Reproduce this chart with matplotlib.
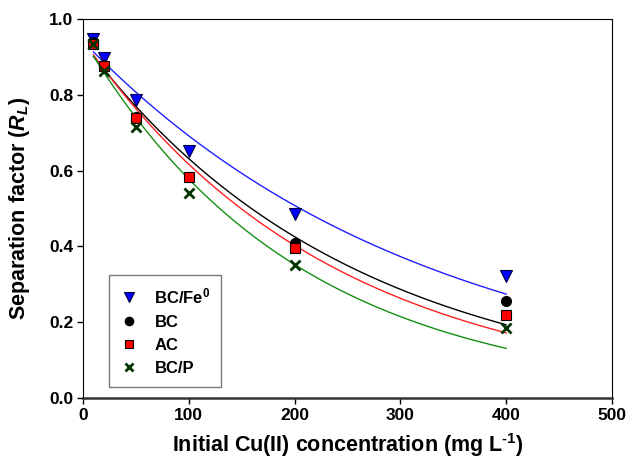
import numpy as np
import matplotlib
matplotlib.use("Agg")
import matplotlib.pyplot as plt

plt.rcParams['font.family'] = ['Liberation Sans', 'DejaVu Sans']
plt.rcParams['font.weight'] = 'bold'
plt.rcParams['mathtext.fontset'] = 'custom'
plt.rcParams['mathtext.rm'] = 'Liberation Sans:bold'
plt.rcParams['mathtext.it'] = 'Liberation Sans:bold:italic'
plt.rcParams['mathtext.bf'] = 'Liberation Sans:bold'

# Data
c0 = [10, 20, 50, 100, 200, 400]
rl_bcfe = [0.948, 0.898, 0.787, 0.651, 0.486, 0.323]
rl_bc = [0.940, 0.880, 0.742, 0.583, 0.410, 0.257]
rl_ac = [0.934, 0.877, 0.740, 0.583, 0.396, 0.218]
rl_bcp = [0.935, 0.864, 0.714, 0.541, 0.352, 0.184]

labels = ['BC/Fe$^{\\mathrm{0}}$', 'BC', 'AC', 'BC/P']


def exp_fit(x, y):
    x = np.asarray(x, float)
    y = np.asarray(y, float)
    best = None
    for b in np.linspace(0.0005, 0.02, 4000):
        e = np.exp(-b * x)
        a = np.dot(e, y) / np.dot(e, e)
        r = np.sum((y - a * e) ** 2)
        if best is None or r < best[0]:
            best = (r, a, b)
    return best[1], best[2]


fig = plt.figure(figsize=(6.28, 4.65), dpi=100)
ax = fig.add_axes([0.132, 0.144, 0.8425, 0.815])

series = [
    (rl_bcfe, dict(marker='v', color='#0000ff', mec='#000040', ms=9, mew=0.8), '#2020ff'),
    (rl_bc, dict(marker='o', color='black', mec='black', ms=7), 'black'),
    (rl_ac, dict(marker='s', color='#ff0000', mec='black', ms=7.5, mew=0.8), '#ff2020'),
    (rl_bcp, dict(marker='x', color='#003300', mec='#003300', ms=7, mew=2), '#149014'),
]

xs = np.linspace(min(c0), max(c0), 200)
handles = []
for (y, mk, lc), lab in zip(series, labels):
    a, b = exp_fit(c0, y)
    ax.plot(xs, a * np.exp(-b * xs), color=lc, lw=1.0, zorder=2)
for (y, mk, lc), lab in zip(series, labels):
    h, = ax.plot(c0, y, ls='none', label=lab, zorder=3, **mk)
    handles.append(h)

ax.set_xlim(0, 500)
ax.set_ylim(0, 1.0)
ax.set_xticks([0, 100, 200, 300, 400, 500])
ax.set_yticks([0.0, 0.2, 0.4, 0.6, 0.8, 1.0])
ax.set_yticklabels(['0.0', '0.2', '0.4', '0.6', '0.8', '1.0'])
ax.tick_params(direction='out', length=4, width=1, labelsize=12.5, pad=3)
for lab in ax.get_xticklabels() + ax.get_yticklabels():
    lab.set_fontweight('bold')
for s in ['top', 'right', 'left']:
    ax.spines[s].set_linewidth(0.8)
ax.spines['bottom'].set_linewidth(1.8)
ax.spines['bottom'].set_color('#333333')

ax.set_xlabel('Initial Cu(II) concentration (mg L$^{\\text{-1}}$)', fontsize=15.5, fontweight='bold', labelpad=6)
ax.set_ylabel('Separation factor ($R_L$)', fontsize=15.5, fontweight='bold')
ax.yaxis.set_label_coords(-0.097, 0.5)

leg = ax.legend(handles=handles, loc='lower left', bbox_to_anchor=(0.0485, 0.029),
                frameon=True, fancybox=False, edgecolor='#555555',
                prop={'weight': 'bold', 'size': 12}, handlelength=1.2, markerscale=0.85,
                handletextpad=0.9, labelspacing=0.5, borderpad=0.65, borderaxespad=0)
leg.get_frame().set_linewidth(1.0)

fig.savefig('out.png', dpi=100)
